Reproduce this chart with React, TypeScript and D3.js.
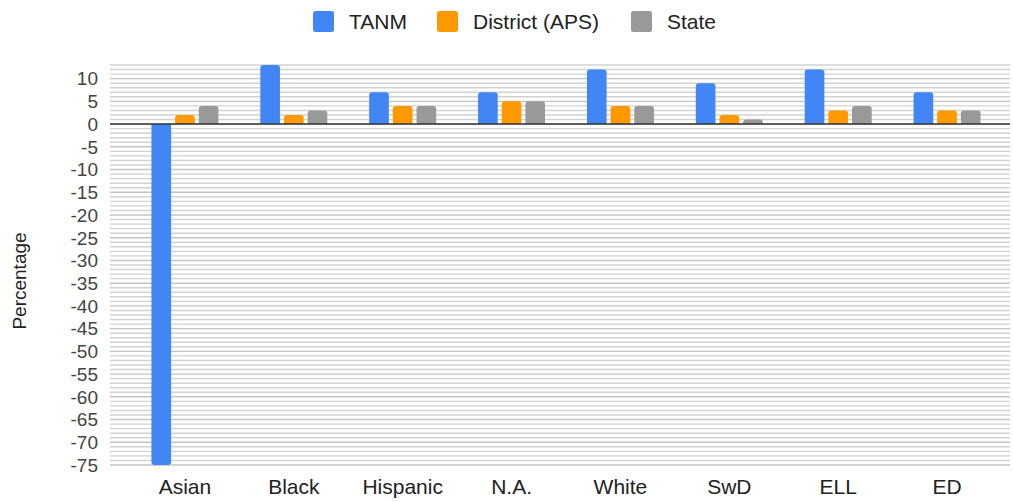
import React from "react";
import * as d3 from "d3";

const categories = ["Asian", "Black", "Hispanic", "N.A.", "White", "SwD", "ELL", "ED"];
const seriesNames = ["TANM", "District (APS)", "State"];
const tanm = [-75, 13, 7, 7, 12, 9, 12, 7];
const district = [2, 2, 4, 5, 4, 2, 3, 3];
const state = [4, 3, 4, 5, 4, 1, 4, 3];
const colors = ["#4285F4", "#FF9900", "#999999"];
const yTicks = [10, 5, 0, -5, -10, -15, -20, -25, -30, -35, -40, -45, -50, -55, -60, -65, -70, -75];

const W = 1013;
const H = 502;
const FONT = "Arial, 'Liberation Sans', sans-serif";

function barPath(x: number, w: number, y0: number, y1: number, r: number) {
  const up = y1 < y0;
  const h = Math.abs(y1 - y0);
  const rr = Math.min(r, h, w / 2);
  if (up) {
    return `M${x},${y0}V${y1 + rr}Q${x},${y1} ${x + rr},${y1}H${x + w - rr}Q${x + w},${y1} ${x + w},${y1 + rr}V${y0}Z`;
  }
  return `M${x},${y0}V${y1 - rr}Q${x},${y1} ${x + rr},${y1}H${x + w - rr}Q${x + w},${y1} ${x + w},${y1 - rr}V${y0}Z`;
}

export default function App() {
  const series = [tanm, district, state];
  const y = d3.scaleLinear().domain([-75, 13]).range([465, 65]);
  const x0 = d3.scaleBand<string>().domain(categories).range([130.5, 1001.5]).paddingInner(0).paddingOuter(0);
  const groupW = 67;
  const x1 = d3.scaleBand<string>().domain(seriesNames).range([0, groupW]).paddingInner(0.17);
  const gridLeft = 110;
  const gridRight = 1010;
  const minorTicks = d3.range(-75, 14, 1);

  const legendItems = [
    { name: seriesNames[0], x: 313, tx: 349 },
    { name: seriesNames[1], x: 437, tx: 473 },
    { name: seriesNames[2], x: 631, tx: 667 },
  ];

  return (
    <svg
      width={W}
      height={H}
      style={{ position: "absolute", left: 0, top: 0, background: "#fff" }}
      fontFamily={FONT}
    >
      <g>
        {minorTicks.map((t) => (
          <line
            key={t}
            x1={gridLeft}
            x2={gridRight}
            y1={y(t)}
            y2={y(t)}
            stroke={t % 5 === 0 ? "#c4c4c4" : "#d2d2d2"}
            strokeWidth={1.4}
          />
        ))}
      </g>
      <g fontSize={19} fill="#444" textAnchor="end">
        {yTicks.map((t) => (
          <text key={t} x={98} y={y(t)} dy="0.36em">
            {t}
          </text>
        ))}
      </g>
      <g>
        {categories.map((c, i) => {
          const gx = (x0(c) as number) + (x0.bandwidth() - groupW) / 2;
          return (
            <g key={c}>
              {series.map((s, j) => (
                <path
                  key={j}
                  d={barPath(gx + (x1(seriesNames[j]) as number), x1.bandwidth(), y(0), y(s[i]), 3)}
                  fill={colors[j]}
                />
              ))}
            </g>
          );
        })}
      </g>
      <line x1={gridLeft} x2={gridRight} y1={y(0)} y2={y(0)} stroke="#333" strokeWidth={1.5} />
      <g fontSize={21} fill="#222" textAnchor="middle">
        {categories.map((c) => (
          <text key={c} x={(x0(c) as number) + x0.bandwidth() / 2} y={494}>
            {c}
          </text>
        ))}
      </g>
      <text
        transform={`translate(26,${281}) rotate(-90)`}
        textAnchor="middle"
        fontSize={19}
        fill="#222"
      >
        Percentage
      </text>
      <g>
        {legendItems.map((l, i) => (
          <g key={l.name}>
            <rect x={l.x} y={11} width={21} height={21} rx={2.5} fill={colors[i]} />
            <text x={l.tx} y={28.5} fontSize={21} fill="#222">
              {l.name}
            </text>
          </g>
        ))}
      </g>
    </svg>
  );
}
